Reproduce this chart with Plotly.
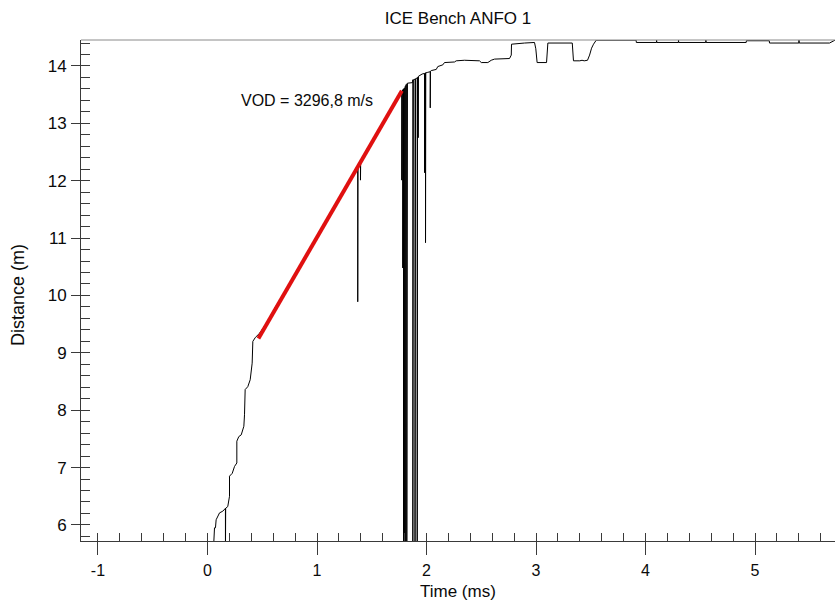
import plotly.graph_objects as go

# Probe record: time (ms) vs. distance along the probe (m)
time_ms = [
    0.040, 0.058, 0.064, 0.073, 0.079, 0.103, 0.110, 0.140, 0.164, 0.164,
    0.166, 0.185, 0.195, 0.201, 0.201, 0.226, 0.247, 0.268, 0.268, 0.286,
    0.308, 0.332, 0.338, 0.344, 0.368, 0.390, 0.408, 0.414, 0.438, 0.475,
    0.550, 0.620, 0.700, 0.800, 0.900, 1.000, 1.100, 1.200, 1.300, 1.372,
    1.372, 1.374, 1.397, 1.397, 1.399, 1.500, 1.600, 1.700, 1.774, 1.774,
    1.776, 1.783, 1.783, 1.785, 1.790, 1.790, 1.795, 1.800, 1.800, 1.805,
    1.810, 1.810, 1.815, 1.820, 1.820, 1.826, 1.872, 1.875, 1.875, 1.880,
    1.895, 1.895, 1.900, 1.915, 1.915, 1.918, 1.924, 1.924, 1.926, 1.960,
    1.982, 1.982, 1.984, 1.991, 1.991, 1.993, 2.012, 2.034, 2.034, 2.036,
    2.043, 2.089, 2.103, 2.149, 2.164, 2.256, 2.271, 2.347, 2.484, 2.500,
    2.560, 2.591, 2.621, 2.758, 2.774, 2.776, 2.895, 2.986, 2.998, 3.010,
    3.096, 3.108, 3.331, 3.342, 3.400, 3.420, 3.440, 3.470, 3.489, 3.507,
    3.525, 3.550, 3.914, 3.916, 4.100, 4.101, 4.103, 4.300, 4.301, 4.303,
    4.550, 4.551, 4.553, 4.919, 4.921, 5.130, 5.132, 5.400, 5.401, 5.403,
    5.680, 5.730, 5.800,
]
distance_m = [
    5.50, 5.71, 5.95, 5.95, 6.09, 6.18, 6.21, 6.24, 6.29, 5.50,
    6.29, 6.32, 6.47, 6.50, 6.85, 6.90, 7.02, 7.08, 7.46, 7.54,
    7.57, 7.72, 7.92, 8.36, 8.41, 8.53, 8.82, 9.20, 9.27, 9.34,
    9.55, 9.80, 10.03, 10.37, 10.69, 11.02, 11.36, 11.68, 12.03, 12.27,
    9.89, 12.28, 12.35, 12.01, 12.36, 12.69, 13.01, 13.33, 13.55, 12.01,
    13.56, 13.58, 10.48, 13.59, 13.60, 5.50, 13.61, 13.62, 5.50, 13.64,
    13.66, 5.50, 13.68, 13.69, 5.50, 13.70, 13.71, 13.76, 5.50, 13.76,
    13.77, 5.50, 13.78, 13.79, 5.50, 13.80, 13.81, 12.75, 13.82, 13.86,
    13.87, 12.14, 13.87, 13.88, 10.92, 13.88, 13.89, 13.90, 13.27, 13.91,
    13.92, 13.94, 13.99, 14.02, 14.06, 14.07, 14.09, 14.10, 14.09, 14.06,
    14.06, 14.10, 14.12, 14.13, 14.19, 14.38, 14.40, 14.41, 14.30, 14.06,
    14.06, 14.40, 14.40, 14.09, 14.09, 14.10, 14.09, 14.10, 14.19, 14.31,
    14.38, 14.45, 14.45, 14.41, 14.41, 14.45, 14.41, 14.41, 14.45, 14.41,
    14.41, 14.45, 14.41, 14.41, 14.44, 14.44, 14.40, 14.40, 14.45, 14.40,
    14.40, 14.45, 14.45,
]

# Linear fit through the detonation front
vod_m_per_s = 3296.8
fit_t = [0.465, 1.775]
fit_d0 = 9.25
fit_d = [fit_d0 + vod_m_per_s / 1000.0 * (t - fit_t[0]) for t in fit_t]
vod_label = "VOD = 3296,8 m/s"

x_ticks = [-1, 0, 1, 2, 3, 4, 5]
x_tick_text = ["-1", "0", "1", "2", "3", "4", "5"]
y_ticks = [6, 7, 8, 9, 10, 11, 12, 13, 14]
x_range = [-1.155, 5.73]
y_range = [5.72, 14.453]

FONT = "Liberation Sans, Arial, sans-serif"
AXIS_COLOR = "#3a3a3a"
TEXT_COLOR = "#0a0a0a"

fig = go.Figure()
fig.add_trace(go.Scatter(
    x=time_ms, y=distance_m, mode="lines",
    line=dict(color="black", width=1), hoverinfo="skip", showlegend=False,
))
fig.add_trace(go.Scatter(
    x=fit_t, y=fit_d, mode="lines", xaxis="x2", yaxis="y2",
    line=dict(color="#e01010", width=4), hoverinfo="skip", showlegend=False,
))

fig.update_layout(
    width=835, height=601,
    margin=dict(l=81, r=0, t=40, b=60),
    paper_bgcolor="white", plot_bgcolor="white",
    font=dict(family=FONT, size=16, color=TEXT_COLOR),
    title=dict(text="ICE Bench ANFO 1", x=0.5, xref="paper", xanchor="center",
               y=1 - 18 / 601, yref="container", yanchor="middle",
               font=dict(family=FONT, size=17, color=TEXT_COLOR)),
    xaxis=dict(
        range=x_range, tickmode="array", tickvals=x_ticks, ticktext=x_tick_text,
        ticks="outside", ticklen=13, tickwidth=1, tickcolor=AXIS_COLOR,
        ticklabelstandoff=2,
        showline=True, linecolor=AXIS_COLOR, linewidth=1,
        showgrid=False, zeroline=False, tickfont=dict(size=16),
    ),
    yaxis=dict(
        range=y_range, tickmode="array", tickvals=y_ticks,
        ticks="outside", ticklen=9, tickwidth=1, tickcolor=AXIS_COLOR,
        ticklabelstandoff=1,
        showline=True, linecolor=AXIS_COLOR, linewidth=1,
        showgrid=False, zeroline=False, tickfont=dict(size=17),
    ),
    # Overlaid axes carrying the inward 0.2-step ticks
    xaxis2=dict(
        overlaying="x", matches="x", anchor="y", side="bottom",
        tickmode="linear", tick0=0, dtick=0.2, ticks="inside", ticklen=8,
        tickwidth=1, tickcolor=AXIS_COLOR, showticklabels=False,
        showline=False, showgrid=False, zeroline=False,
    ),
    yaxis2=dict(
        overlaying="y", matches="y", anchor="x", side="left",
        tickmode="linear", tick0=0, dtick=0.2, ticks="inside", ticklen=9,
        tickwidth=1, tickcolor=AXIS_COLOR, showticklabels=False,
        showline=False, showgrid=False, zeroline=False,
    ),
    shapes=[dict(type="line", xref="paper", yref="paper", x0=0, x1=1, y0=1, y1=1,
                 line=dict(color="#8a8a8a", width=1))],
    annotations=[
        dict(text=vod_label, x=0.29, y=13.39, xref="x", yref="y",
             xanchor="left", yanchor="middle", showarrow=False,
             font=dict(family=FONT, size=16, color=TEXT_COLOR)),
        dict(text="Time (ms)", x=0.5, y=(541 - 591) / 501, xref="paper", yref="paper",
             xanchor="center", yanchor="middle", showarrow=False,
             font=dict(family=FONT, size=17, color=TEXT_COLOR)),
        dict(text="Distance (m)", x=(18 - 81) / 754, y=(541 - 295) / 501,
             xref="paper", yref="paper", textangle=-90,
             xanchor="center", yanchor="middle", showarrow=False,
             font=dict(family=FONT, size=18, color=TEXT_COLOR)),
    ],
)

fig.write_html("out.html")
